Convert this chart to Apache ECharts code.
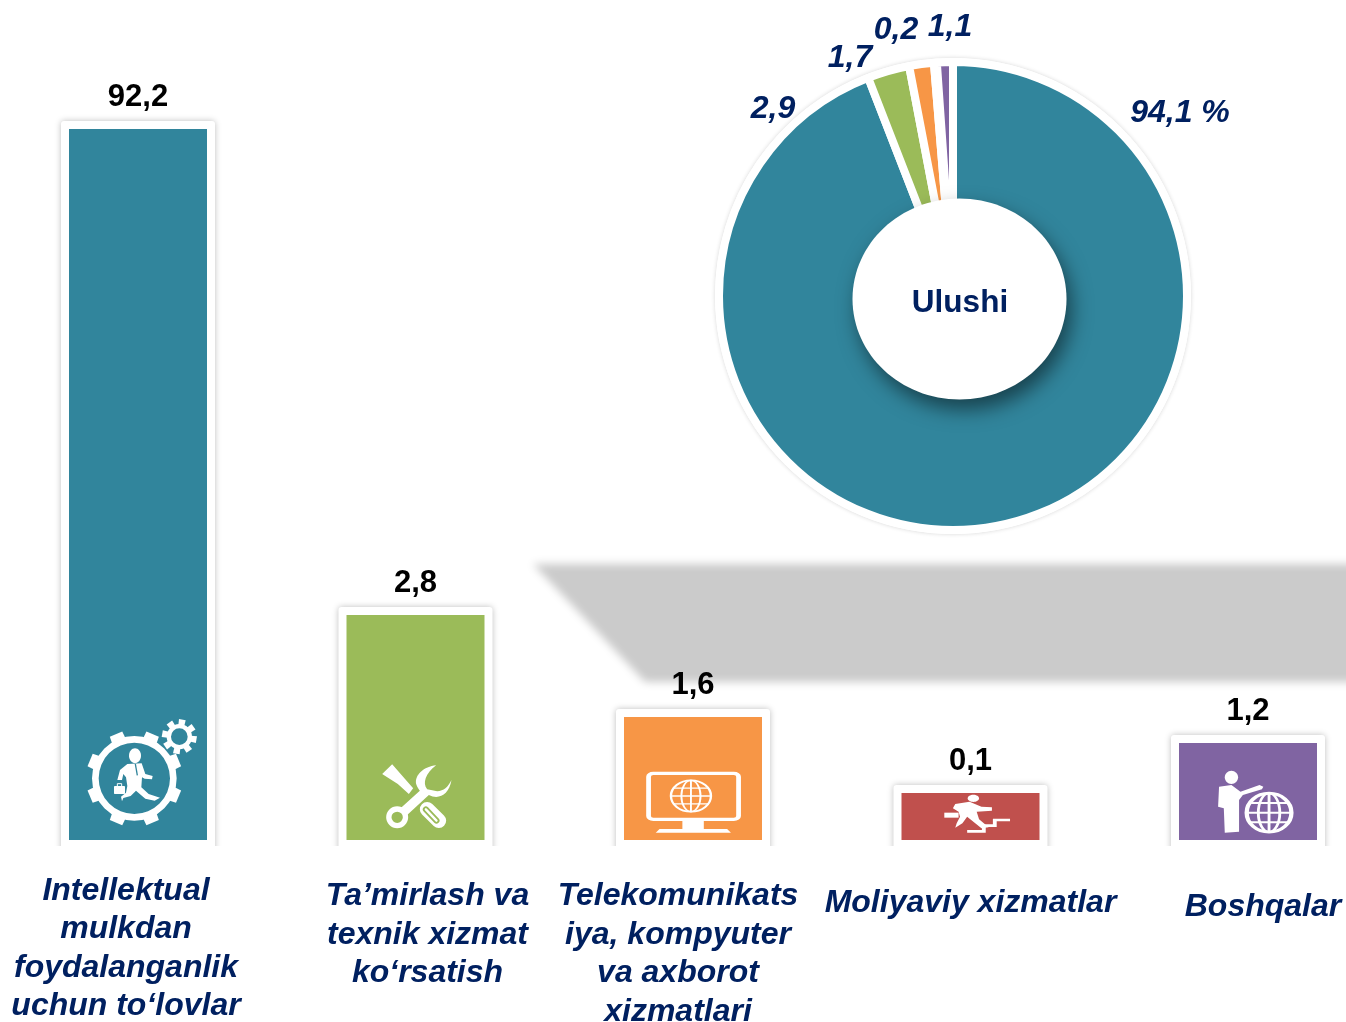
<!DOCTYPE html>
<html><head><meta charset="utf-8">
<style>html,body{margin:0;padding:0;background:#fff}#c{width:1346px;height:1022px}</style>
<script src="https://cdn.jsdelivr.net/npm/echarts@6/dist/echarts.min.js"></script>
</head><body><div id="c"></div>
<script>
// ---- data ----
const categories = [
  "Intellektual\nmulkdan\nfoydalanganlik\nuchun to‘lovlar",
  "Ta’mirlash va\ntexnik xizmat\nko‘rsatish",
  "Telekomunikats\niya, kompyuter\nva axborot\nxizmatlari",
  "Moliyaviy xizmatlar",
  "Boshqalar"
];
const barValues = [92.2, 2.8, 1.6, 0.1, 1.2];
// the source bars are a pictogram, not proportional to their values: these are their drawn heights
const barDrawnHeights = [711, 225, 123, 47, 97];
const pieValues = [94.1, 2.9, 1.7, 0.2, 1.1];
const pieLabels = ["94,1 %", "2,9", "1,7", "0,2", "1,1"];
const colors = ["#31859C", "#9BBB59", "#F79646", "#C0504D", "#8064A2"];
const centerTitle = "Ulushi";

// ---- layout ----
const NAVY = "#002060";
const FONT = '"Liberation Sans", Arial, sans-serif';
const pieLabelPos = [[1180,113],[773,109],[850,58],[896,30],[950,27]];
const catLabelOffset = [[-12,108.5],[12,95],[-15,114],[0,63],[15,67]];
const iconFrames = [
  {zx:294, zy:420, sx:1/3, sy:1/3},
  {zx:1125, zy:420, sx:1/3, sy:1/3},
  {zx:195.3, zy:540, sx:1/2.1, sy:1/3},
  {zx:777, zy:540, sx:1/2.1, sy:1/3},
  {zx:1360.8, zy:540, sx:1/2.1, sy:1/3}
];

const W = {fill:"#fff"};
const S = lw => ({fill:"none", stroke:"#fff", lineWidth:lw, lineCap:"round", lineJoin:"round"});
const path = (d, style) => ({type:"path", shape:{pathData:d}, style});
function gear(cx, cy, rIn, rOut, rTip, n, off, hb, ht) {
  const out = [{type:"ring", shape:{cx, cy, r:rOut, r0:rIn}, style:W}];
  const p = (r, a) => [cx + r*Math.sin(a*Math.PI/180), cy - r*Math.cos(a*Math.PI/180)];
  for (let i = 0; i < n; i++) {
    const a = off + i*360/n;
    out.push({type:"polygon", shape:{points:[p(rOut-3,a-hb), p(rTip,a-ht), p(rTip,a+ht), p(rOut-3,a+hb)]}, style:W});
  }
  return out;
}
function globe(cx, cy, rx, ry, lw, lw2) {
  const g = [
    {type:"ellipse", shape:{cx, cy, rx, ry}, style:S(lw)},
    {type:"ellipse", shape:{cx, cy, rx:rx*0.48, ry}, style:S(lw2)},
    path(`M${cx} ${cy-ry} L${cx} ${cy+ry}`, S(lw2))
  ];
  [-0.5,0,0.5].forEach(k => {
    const y = cy + k*ry, hw = rx*Math.sqrt(1-k*k);
    g.push(path(`M${cx-hw} ${y} L${cx+hw} ${y}`, S(lw2)));
  });
  return g;
}
const iconArt = [
  c => [
    ...gear(283,235,107,127,145,8,22.5,10,8),
    ...gear(418,110,25,38,53,8,10,15,11),
    {type:"ellipse", shape:{cx:285,cy:167,rx:18,ry:22}, style:W},
    path("M262 192 L305 190 L316 222 L338 228 L336 238 L314 236 L306 232 L304 262 L326 282 L360 293 L344 302 L316 296 L288 272 L272 288 L250 294 L246 304 L243 290 L258 278 L262 258 L258 232 L250 222 L246 240 L232 240 L240 210 Z", W),
    path("M286 192 L292 226", {fill:"none", stroke:c, lineWidth:4}),
    {type:"rect", shape:{x:222,y:258,width:33,height:24,r:2}, style:W},
    path("M232 258 L232 251 L245 251 L245 258", S(3))
  ],
  c => [
    {type:"polygon", shape:{points:[[1025,222],[1055,193],[1093,236],[1118,265],[1105,282],[1072,252]]}, style:W},
    path("M1187 196 C1150 200 1122 225 1127 252 C1130 262 1135 268 1138 272 L1080 325 L1100 345 L1165 285 C1195 300 1225 285 1233 240 C1222 262 1210 272 1190 274 L1160 268 C1145 250 1155 220 1187 196 Z", W),
    {type:"ring", shape:{cx:1070,cy:352,r:33,r0:17}, style:W},
    path("M1160 328 L1195 362", S(44)),
    path("M1156 328 L1188 362", {fill:"none", stroke:c, lineWidth:18, lineCap:"round"}),
    path("M1156 328 L1188 362", S(7))
  ],
  c => [
    {type:"rect", shape:{x:102,y:340,width:189,height:138,r:10}, style:S(10)},
    ...globe(191,408,42,47,5,4),
    {type:"rect", shape:{x:173,y:483,width:45,height:25}, style:W},
    {type:"polygon", shape:{points:[[117,518],[125,507],[267,507],[275,518]]}, style:W}
  ],
  c => [
    {type:"ellipse", shape:{cx:783,cy:415,rx:12,ry:11}, style:W},
    path("M745 432 L775 425 L800 440 L822 442 L822 452 L790 455 L795 478 L815 502 L800 505 L770 470 L760 490 L745 503 L748 490 L755 470 L752 455 L740 445 Z", W),
    {type:"rect", shape:{x:722,y:458,width:30,height:15}, style:W},
    path("M770 514 L805 514 L805 497 L828 497 L828 480 L860 480", {fill:"none", stroke:"#fff", lineWidth:8})
  ],
  c => [
    {type:"ellipse", shape:{cx:1326,cy:352,rx:14,ry:20}, style:W},
    path("M1300 380 L1326 375 L1345 395 L1385 375 L1393 380 L1390 388 L1350 405 L1342 420 L1342 515 L1312 518 L1310 445 L1298 440 Z", W),
    ...globe(1405,458,47,58,9,6)
  ]
];

const BAND_SHIFT = 3000; // the band itself is off-canvas so that only its soft-edged shadow shows
const chart = echarts.init(document.getElementById("c"));
chart.setOption({
  animation:false,
  backgroundColor:"#fff",
  grid:{outerBoundsMode:"none", left:-0.75, top:0, width:1387.5, bottom:176, containLabel:false},
  xAxis:{type:"category", data:categories, show:false},
  yAxis:{type:"value", min:-6, max:840, show:false},
  graphic:[
    {type:"polygon", z:-1, silent:true,
     shape:{points:[[533-BAND_SHIFT,564],[1380-BAND_SHIFT,564],[1380-BAND_SHIFT,682],[645-BAND_SHIFT,682]]},
     style:{fill:"#cbcbcb", shadowBlur:8, shadowColor:"#cbcbcb", shadowOffsetX:BAND_SHIFT}},
    {type:"circle", z:1, silent:true,
     shape:{cx:953, cy:296, r:238},
     style:{fill:"#fff", shadowBlur:4, shadowColor:"rgba(0,0,0,0.16)"}},
    {type:"ellipse", z:10, silent:true,
     shape:{cx:959.5, cy:299, rx:107, ry:100.5},
     style:{fill:"#fff", shadowBlur:20, shadowOffsetX:5, shadowOffsetY:10, shadowColor:"rgba(0,0,0,0.5)"}},
    {type:"text", z:11, silent:true, x:960, y:303,
     style:{text:centerTitle, fill:NAVY, font:`bold 31.5px ${FONT}`, align:"center", verticalAlign:"middle"}}
  ],
  series:[
    {type:"custom", name:"cards", z:1, clip:true, silent:true,
     data:barDrawnHeights.map((h,i)=>[i,h]), encode:{x:0,y:1},
     renderItem:(p,api)=>{
       const t = api.coord([api.value(0), api.value(1)]);
       return {type:"rect", shape:{x:t[0]-77, y:t[1]-8, width:154, height:900, r:3},
         style:{fill:"#fff", shadowBlur:6, shadowColor:"rgba(0,0,0,0.26)"}};
     }},
    {type:"bar", name:"bars", z:2, barWidth:138, silent:true,
     data:barDrawnHeights.map((h,i)=>({value:h, itemStyle:{color:colors[i]}})),
     label:{show:true, position:"top", distance:16, color:"#000",
       fontFamily:"Liberation Sans", fontWeight:"bold", fontSize:31,
       formatter:p=>barValues[p.dataIndex].toFixed(1).replace(".",",")}},
    {type:"custom", name:"icons", z:3, clip:false, silent:true,
     data:barDrawnHeights.map((h,i)=>[i,h]), encode:{x:0,y:1},
     renderItem:(p,api)=>{
       const i = api.value(0), b = api.coord([i,0]), f = iconFrames[i];
       const off = catLabelOffset[i];
       return {type:"group", children:[
         {type:"group", x:b[0]-f.zx*f.sx, y:b[1]-f.zy*f.sy, scaleX:f.sx, scaleY:f.sy, children:iconArt[i](colors[i])},
         {type:"text", x:b[0]+off[0], y:b[1]+off[1],
          style:{text:categories[i], fill:NAVY, font:`italic bold 32px ${FONT}`, lineHeight:38.5, align:"center", verticalAlign:"middle"}}
       ]};
     }},
    {type:"pie", name:"Ulushi", z:2, center:[953,296], radius:[60,234], startAngle:90, clockwise:true,
     silent:true, avoidLabelOverlap:false,
     data:pieValues.map((v,i)=>({value:v, name:categories[i].replace(/\n/g," "), itemStyle:{color:colors[i]}})),
     itemStyle:{borderColor:"#fff", borderWidth:8},
     label:{show:true, position:"outside", color:NAVY, fontFamily:"Liberation Sans", fontStyle:"italic", fontWeight:"bold", fontSize:32,
       formatter:p=>pieLabels[p.dataIndex]},
     labelLine:{show:false},
     labelLayout:p=>({x:pieLabelPos[p.dataIndex][0], y:pieLabelPos[p.dataIndex][1], align:"center", verticalAlign:"middle"})}
  ]
});
</script></body></html>
